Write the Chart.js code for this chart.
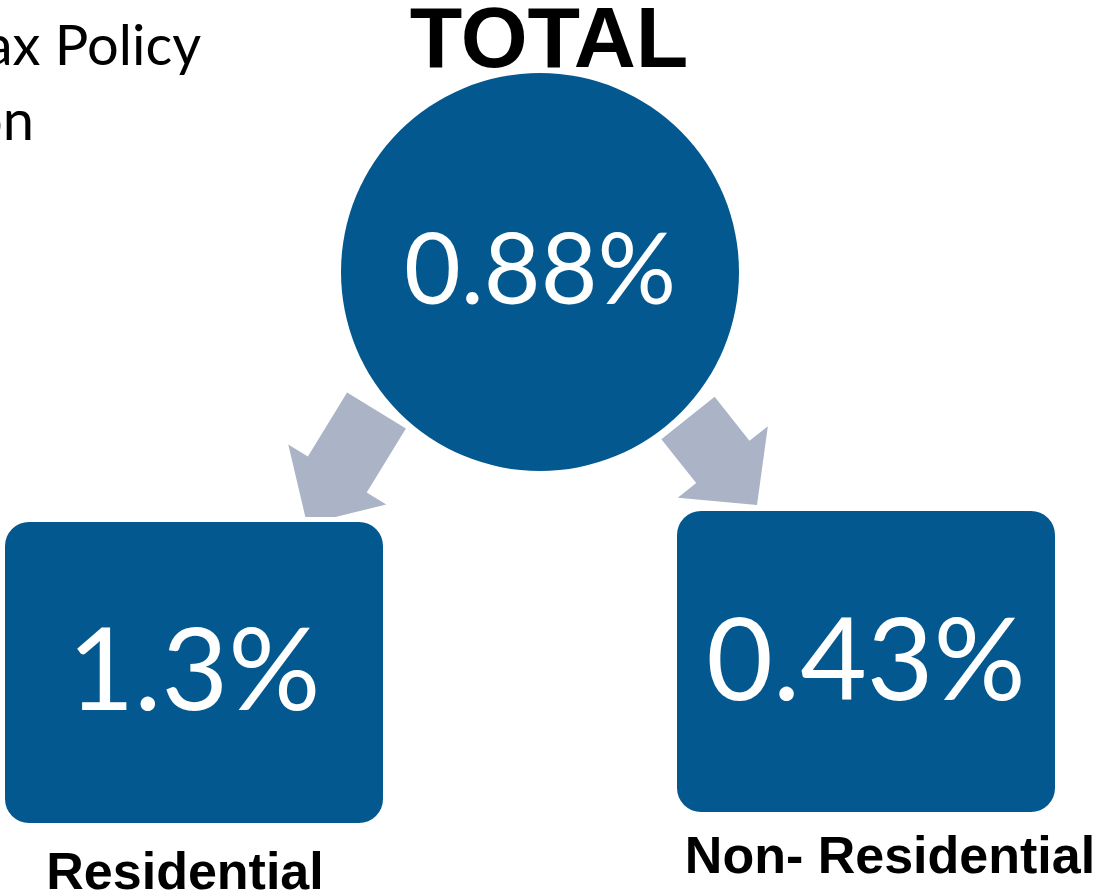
<!DOCTYPE html>
<html lang="en">

<head>
  <meta charset="UTF-8" />
  <title>Total, Residential and Non-Residential</title>
  <script src="https://cdn.jsdelivr.net/npm/chart.js"></script>
  <style>
    body {
      margin: 0;
      background: white;
      overflow: hidden;
    }

    .wrap {
      width: 1099px;
      height: 892px;
      position: relative;
    }
  </style>
</head>

<body>
  <div class="wrap">
    <canvas id="diagram"></canvas>
  </div>

  <script>
    // data
    const nodeNames = ["TOTAL", "Residential", "Non- Residential"];
    const nodeValues = [0.88, 1.3, 0.43];
    const valueLabels = ["0.88%", "1.3%", "0.43%"];
    const sourceLines = ["Tax Policy", "Division"];

    // layout, in the pixel units of the hidden x/y scales
    const nodeLayout = [
      { shape: "circle", cx: 540, cy: 272, r: 199, valueDy: 32, valueSize: 98, labelY: 67, labelX: 549, labelSize: 86 },
      { shape: "box", x0: 5, y0: 522, x1: 383, y1: 823, valueDy: 37, valueSize: 115, labelY: 889, labelX: 185, labelSize: 52 },
      { shape: "box", x0: 677, y0: 511, x1: 1055, y1: 812, valueDy: 38, valueSize: 115, labelY: 873, labelX: 890, labelSize: 52 }
    ];
    const arrows = [
      { from: [376.5, 410.5], to: [307, 524], shaft: 69, head: 115, headLen: 58 },
      { from: [688, 418], to: [757, 505], shaft: 68, head: 115, headLen: 55 }
    ];

    const blue = "#03598F";
    const grey = "#ABB4C7";

    function nodeCenter(n) {
      if (n.shape === "circle") return { x: n.cx, y: n.cy };
      return { x: (n.x0 + n.x1) / 2, y: (n.y0 + n.y1) / 2 };
    }

    const diagramPlugin = {
      id: "diagram",
      beforeDatasetsDraw(chart) {
        const ctx = chart.ctx;
        const xs = chart.scales.x;
        const ys = chart.scales.y;
        const px = v => xs.getPixelForValue(v);
        const py = v => ys.getPixelForValue(v);

        // arrows
        ctx.save();
        ctx.fillStyle = grey;
        arrows.forEach(a => {
          const x0 = px(a.from[0]), y0 = py(a.from[1]);
          const x1 = px(a.to[0]), y1 = py(a.to[1]);
          const len = Math.hypot(x1 - x0, y1 - y0);
          const ux = (x1 - x0) / len, uy = (y1 - y0) / len;
          const nx = -uy, ny = ux;
          const bx = x1 - ux * a.headLen, by = y1 - uy * a.headLen;
          const s = a.shaft / 2, h = a.head / 2;
          ctx.beginPath();
          ctx.moveTo(x0 + nx * s, y0 + ny * s);
          ctx.lineTo(bx + nx * s, by + ny * s);
          ctx.lineTo(bx + nx * h, by + ny * h);
          ctx.lineTo(x1, y1);
          ctx.lineTo(bx - nx * h, by - ny * h);
          ctx.lineTo(bx - nx * s, by - ny * s);
          ctx.lineTo(x0 - nx * s, y0 - ny * s);
          ctx.closePath();
          ctx.fill();
        });

        // rounded boxes, with a thin white halo where the arrow meets them
        nodeLayout.forEach(n => {
          if (n.shape !== "box") return;
          const l = px(n.x0), t = py(n.y0);
          const w = px(n.x1) - l, hgt = py(n.y1) - t;
          ctx.beginPath();
          ctx.roundRect(l, t, w, hgt, 24);
          ctx.lineWidth = 10;
          ctx.strokeStyle = "white";
          ctx.stroke();
          ctx.fillStyle = blue;
          ctx.fill();
        });
        ctx.restore();
      },
      afterDatasetsDraw(chart) {
        const ctx = chart.ctx;
        const xs = chart.scales.x;
        const ys = chart.scales.y;
        ctx.save();
        ctx.textAlign = "center";
        ctx.textBaseline = "alphabetic";

        nodeLayout.forEach((n, i) => {
          const c = nodeCenter(n);
          ctx.fillStyle = "white";
          ctx.font = "400 " + n.valueSize + "px Lato";
          ctx.fillText(valueLabels[i], xs.getPixelForValue(c.x), ys.getPixelForValue(c.y + n.valueDy));

          ctx.fillStyle = "black";
          ctx.font = "bold " + n.labelSize + "px 'Liberation Sans', Arial";
          ctx.fillText(nodeNames[i], xs.getPixelForValue(n.labelX), ys.getPixelForValue(n.labelY));
        });

        // source note, partly cut off at the left edge
        ctx.textAlign = "right";
        ctx.fillStyle = "black";
        ctx.font = "400 56px Lato";
        ctx.fillText(sourceLines[0], xs.getPixelForValue(201), ys.getPixelForValue(65));
        ctx.fillText(sourceLines[1], xs.getPixelForValue(34), ys.getPixelForValue(140));
        ctx.restore();
      }
    };

    const circleNode = nodeLayout[0];

    new Chart(document.getElementById("diagram"), {
      type: "scatter",
      data: {
        datasets: [{
          label: nodeNames[0],
          data: [{ x: circleNode.cx, y: circleNode.cy, v: nodeValues[0] }],
          pointRadius: circleNode.r,
          pointHoverRadius: circleNode.r,
          backgroundColor: blue,
          borderWidth: 0,
          clip: false
        }]
      },
      options: {
        responsive: true,
        maintainAspectRatio: false,
        animation: false,
        events: [],
        layout: { padding: 0, autoPadding: false },
        plugins: {
          legend: { display: false },
          tooltip: { enabled: false }
        },
        scales: {
          x: { type: "linear", min: 0, max: 1099, display: false },
          y: { type: "linear", min: 0, max: 892, reverse: true, display: false }
        }
      },
      plugins: [diagramPlugin]
    });
  </script>
</body>

</html>
